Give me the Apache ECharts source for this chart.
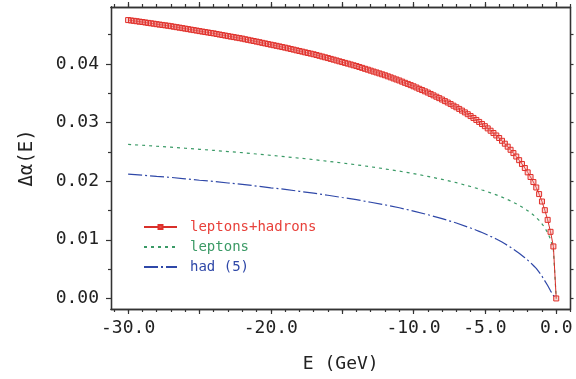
<!DOCTYPE html>
<html><head><meta charset="utf-8">
<script src="https://cdn.jsdelivr.net/npm/echarts@6/dist/echarts.min.js"></script>
<style>html,body{margin:0;padding:0;background:#fff}#c{width:576px;height:379px}</style>
</head><body><div id="c"></div>
<script>
// Energy grid for the leptons+hadrons curve (GeV)
const eTotal = [-30.0,-29.8,-29.6,-29.4,-29.2,-29.0,-28.8,-28.6,-28.4,-28.2,-28.0,-27.8,-27.6,-27.4,-27.2,-27.0,-26.8,-26.6,-26.4,-26.2,-26.0,-25.8,-25.6,-25.4,-25.2,-25.0,-24.8,-24.6,-24.4,-24.2,-24.0,-23.8,-23.6,-23.4,-23.2,-23.0,-22.8,-22.6,-22.4,-22.2,-22.0,-21.8,-21.6,-21.4,-21.2,-21.0,-20.8,-20.6,-20.4,-20.2,-20.0,-19.8,-19.6,-19.4,-19.2,-19.0,-18.8,-18.6,-18.4,-18.2,-18.0,-17.8,-17.6,-17.4,-17.2,-17.0,-16.8,-16.6,-16.4,-16.2,-16.0,-15.8,-15.6,-15.4,-15.2,-15.0,-14.8,-14.6,-14.4,-14.2,-14.0,-13.8,-13.6,-13.4,-13.2,-13.0,-12.8,-12.6,-12.4,-12.2,-12.0,-11.8,-11.6,-11.4,-11.2,-11.0,-10.8,-10.6,-10.4,-10.2,-10.0,-9.8,-9.6,-9.4,-9.2,-9.0,-8.8,-8.6,-8.4,-8.2,-8.0,-7.8,-7.6,-7.4,-7.2,-7.0,-6.8,-6.6,-6.4,-6.2,-6.0,-5.8,-5.6,-5.4,-5.2,-5.0,-4.8,-4.6,-4.4,-4.2,-4.0,-3.8,-3.6,-3.4,-3.2,-3.0,-2.8,-2.6,-2.4,-2.2,-2.0,-1.8,-1.6,-1.4,-1.2,-1.0,-0.8,-0.6,-0.4,-0.2,0.0];
const leptonsHadrons = [0.04747,0.04740,0.04734,0.04727,0.04720,0.04714,0.04706,0.04699,0.04692,0.04685,0.04677,0.04670,0.04664,0.04657,0.04650,0.04643,0.04634,0.04626,0.04618,0.04610,0.04601,0.04593,0.04584,0.04576,0.04568,0.04559,0.04551,0.04543,0.04535,0.04527,0.04520,0.04510,0.04501,0.04492,0.04483,0.04474,0.04465,0.04457,0.04448,0.04439,0.04431,0.04420,0.04410,0.04400,0.04390,0.04380,0.04370,0.04359,0.04349,0.04338,0.04328,0.04318,0.04308,0.04298,0.04287,0.04277,0.04266,0.04254,0.04243,0.04231,0.04220,0.04209,0.04197,0.04186,0.04175,0.04164,0.04151,0.04138,0.04125,0.04112,0.04099,0.04085,0.04072,0.04058,0.04044,0.04031,0.04017,0.04004,0.03990,0.03976,0.03963,0.03947,0.03932,0.03916,0.03901,0.03885,0.03869,0.03854,0.03838,0.03822,0.03806,0.03788,0.03770,0.03752,0.03734,0.03717,0.03697,0.03677,0.03658,0.03638,0.03618,0.03597,0.03575,0.03554,0.03532,0.03511,0.03487,0.03463,0.03440,0.03416,0.03392,0.03365,0.03341,0.03315,0.03287,0.03260,0.03232,0.03203,0.03173,0.03142,0.03110,0.03078,0.03044,0.03010,0.02975,0.02938,0.02900,0.02860,0.02821,0.02779,0.02736,0.02688,0.02639,0.02588,0.02535,0.02479,0.02420,0.02358,0.02293,0.02224,0.02150,0.02071,0.01985,0.01892,0.01780,0.01653,0.01505,0.01340,0.01136,0.00887,0];

// Energy grid for the two component curves (GeV)
const eParts = [-30,-29,-28,-27,-26,-25,-24,-23,-22,-21,-20,-19,-18,-17,-16,-15,-14,-13,-12,-11,-10,-9,-8,-7,-6.0,-5.8,-5.6,-5.4,-5.2,-5.0,-4.8,-4.6,-4.4,-4.2,-4.0,-3.8,-3.6,-3.4,-3.2,-3.0,-2.8,-2.6,-2.4,-2.2,-2.0,-1.8,-1.6,-1.4,-1.2,-1.0,-0.8,-0.6,-0.4,-0.2,0.0];
const leptons = [0.02627,0.02612,0.02595,0.02579,0.02561,0.02543,0.02525,0.02505,0.02485,0.02463,0.02441,0.02417,0.02393,0.02367,0.02339,0.02310,0.02279,0.02245,0.02209,0.02171,0.02128,0.02082,0.02031,0.01974,0.01909,0.01895,0.01880,0.01866,0.01850,0.01835,0.01818,0.01801,0.01784,0.01766,0.01747,0.01727,0.01707,0.01685,0.01663,0.01639,0.01614,0.01588,0.01560,0.01529,0.01497,0.01462,0.01423,0.01380,0.01330,0.01273,0.01205,0.01120,0.01006,0.00837,0];
const had5 = [0.02120,0.02102,0.02082,0.02064,0.02040,0.02016,0.01995,0.01969,0.01946,0.01917,0.01887,0.01860,0.01827,0.01797,0.01760,0.01721,0.01684,0.01640,0.01597,0.01546,0.01490,0.01429,0.01361,0.01286,0.01201,0.01183,0.01164,0.01144,0.01124,0.01104,0.01082,0.01059,0.01037,0.01013,0.00989,0.00961,0.00933,0.00903,0.00872,0.00840,0.00806,0.00771,0.00733,0.00694,0.00653,0.00609,0.00562,0.00512,0.00450,0.00380,0.00300,0.00220,0.00130,0.00050,0];

// Ticks
const xMajorTicks = [-30,-25,-20,-15,-10,-5,0];
const xTickLabels = [-30,-20,-10,-5,0];
const xMinorTicks = [-31,-30,-29,-28,-27,-26,-25,-24,-23,-22,-21,-20,-19,-18,-17,-16,-15,-14,-13,-12,-11,-10,-9,-8,-7,-6,-5,-4,-3,-2,-1,0,1];
const yMajorTicks = [0,0.01,0.02,0.03,0.04];
const yMinorTicks = [0.005,0.015,0.025,0.035,0.045];

const seriesNames = ['leptons+hadrons','leptons','had (5)'];

const FONT = 'DejaVu Sans Mono';
const FRAME = '#333';
const X_MIN = -31.2, X_MAX = 1, Y_MIN = -0.0018, Y_MAX = 0.0497;

function pairs(xs, ys){ return xs.map((x,i)=>[x, ys[i]]); }

function xAx(pos, ticks, len, labels, extra){
  return Object.assign({
    type:'value', position:pos, min:X_MIN, max:X_MAX, gridIndex:0,
    axisLine:{show:true, onZero:false, lineStyle:{color:FRAME, width:1.3}},
    axisTick:{show:true, inside:false, length:len, customValues:ticks, lineStyle:{color:FRAME, width:1.2}},
    axisLabel: labels ? {show:true, customValues:labels, margin:10, color:'#222', fontFamily:FONT, fontSize:18,
      formatter:v=>Number(v).toFixed(1)} : {show:false},
    splitLine:{show:false}
  }, extra||{});
}
function yAx(pos, ticks, len, labels, extra){
  return Object.assign({
    type:'value', position:pos, min:Y_MIN, max:Y_MAX, gridIndex:0,
    axisLine:{show:true, onZero:false, lineStyle:{color:FRAME, width:1.3}},
    axisTick:{show:true, inside:false, length:len, customValues:ticks, lineStyle:{color:FRAME, width:1.2}},
    axisLabel: labels ? {show:true, customValues:labels, margin:12, color:'#222', fontFamily:FONT, fontSize:18,
      formatter:v=>Number(v).toFixed(2)} : {show:false},
    splitLine:{show:false}
  }, extra||{});
}

const chart = echarts.init(document.getElementById('c'), null, {renderer:'canvas'});
chart.setOption({
  animation:false,
  backgroundColor:'#fff',
  grid:{left:111, right:5.5, top:7, bottom:70, containLabel:false},
  xAxis:[
    xAx('bottom', xMajorTicks, 5, xTickLabels, {name:'E (GeV)', nameLocation:'middle', nameGap:46,
      nameTextStyle:{fontFamily:FONT, fontSize:18, color:'#222'}}),
    xAx('bottom', xMinorTicks, 3, null),
    xAx('top', xMajorTicks, 5, null),
    xAx('top', xMinorTicks, 3, null)
  ],
  yAxis:[
    yAx('left', yMajorTicks, 5, yMajorTicks, {name:'\u0394\u03b1(E)', nameLocation:'middle', nameGap:74,
      nameTextStyle:{fontFamily:FONT, fontSize:19, color:'#222'}}),
    yAx('left', yMinorTicks, 3, null),
    yAx('right', yMajorTicks, 3, null),
    yAx('right', yMinorTicks, 3, null)
  ],
  legend:{
    orient:'vertical', left:138, top:215, itemWidth:33, itemHeight:5, itemGap:6,
    textStyle:{fontFamily:FONT, fontSize:14, padding:[0,0,0,8]},
    data:[
      {name:seriesNames[0], textStyle:{color:'#e8403a'}},
      {name:seriesNames[1], textStyle:{color:'#3a9a66'}, itemStyle:{opacity:0}},
      {name:seriesNames[2], textStyle:{color:'#2f48a8'}, itemStyle:{opacity:0}}
    ]
  },
  series:[
    {name:seriesNames[1], type:'line', xAxisIndex:0, yAxisIndex:0, data:pairs(eParts, leptons),
      symbol:'none', z:3, lineStyle:{color:'#3a9a66', width:1.2, type:[3,4]}, itemStyle:{color:'#3a9a66'}},
    {name:seriesNames[2], type:'line', xAxisIndex:0, yAxisIndex:0, data:pairs(eParts, had5),
      symbol:'none', z:3, lineStyle:{color:'#2f48a8', width:1.2, type:[14,3,2,3]}, itemStyle:{color:'#2f48a8'}},
    {name:seriesNames[0], type:'line', xAxisIndex:0, yAxisIndex:0, data:pairs(eTotal, leptonsHadrons),
      symbol:'rect', symbolSize:5, showAllSymbol:true, z:4,
      lineStyle:{color:'#d8302a', width:1},
      itemStyle:{color:'rgba(240,140,140,0.35)', borderColor:'#e0302a', borderWidth:1}}
  ]
});
</script></body></html>
